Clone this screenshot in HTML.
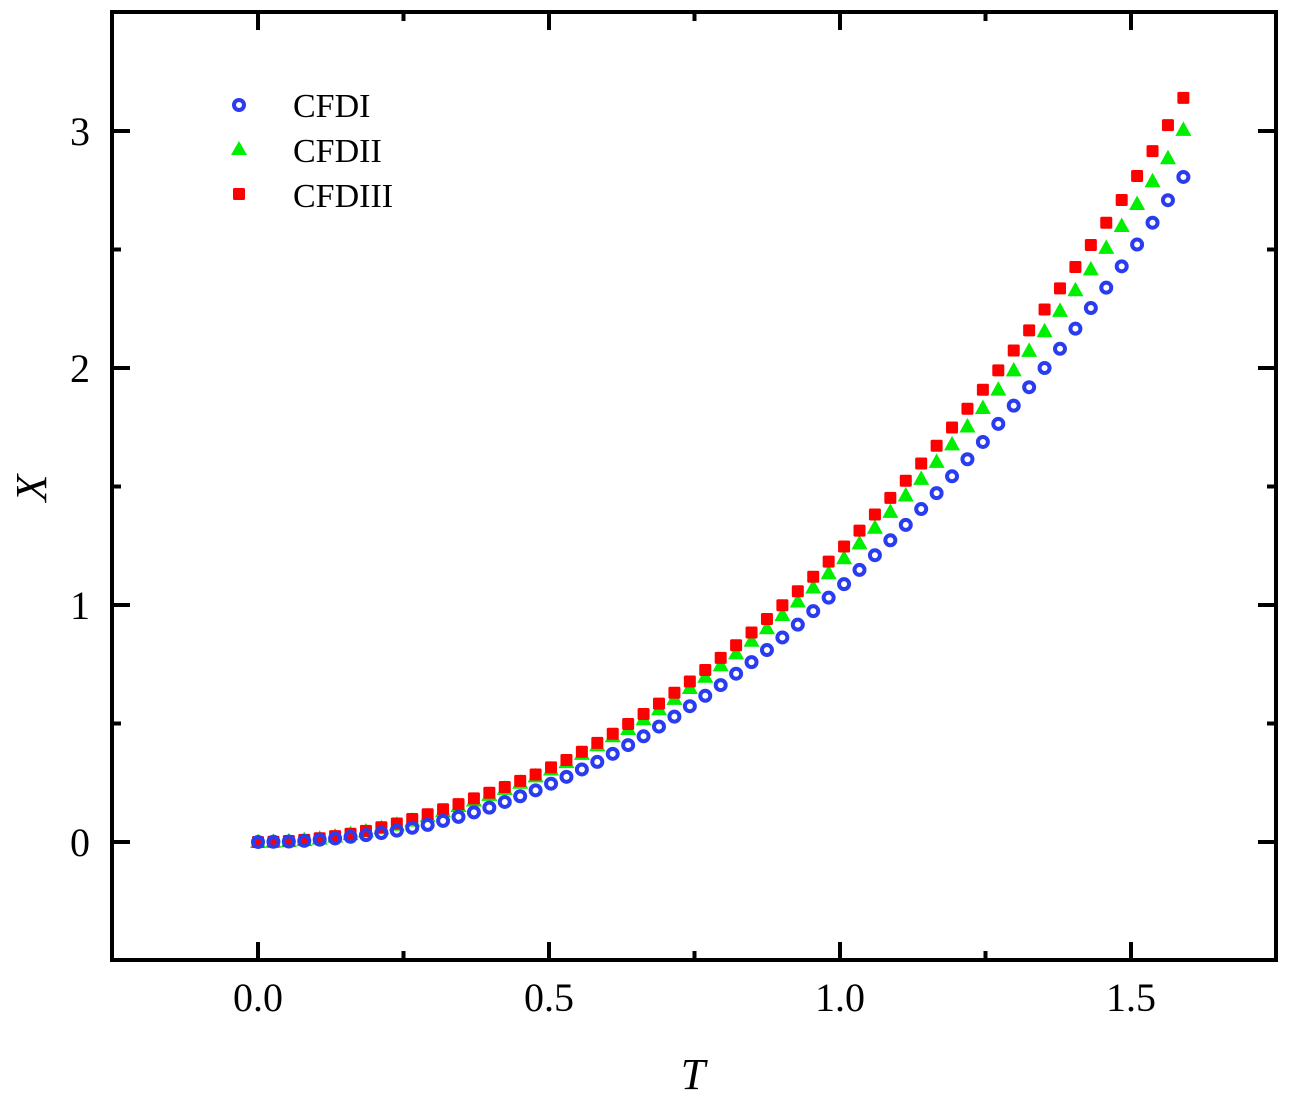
<!DOCTYPE html>
<html><head><meta charset="utf-8"><style>
html,body{margin:0;padding:0;background:#fff;}
svg{display:block;font-family:"Liberation Serif",serif;}
</style></head><body>
<svg id="chart" width="1292" height="1102" viewBox="0 0 1292 1102" xmlns="http://www.w3.org/2000/svg"></svg>
<script>
const tValues=[0,0.0265,0.053,0.0795,0.106,0.1325,0.159,0.1855,0.212,0.2385,0.265,0.2915,0.318,0.3445,0.371,0.3975,0.424,0.4505,0.477,0.5035,0.53,0.5565,0.583,0.6095,0.636,0.6625,0.689,0.7155,0.742,0.7685,0.795,0.8215,0.848,0.8745,0.901,0.9275,0.954,0.9805,1.007,1.0335,1.06,1.0865,1.113,1.1395,1.166,1.1925,1.219,1.2455,1.272,1.2985,1.325,1.3515,1.378,1.4045,1.431,1.4575,1.484,1.5105,1.537,1.5635,1.59];
const cfd1=[0,0.001,0.002,0.005,0.010,0.015,0.022,0.029,0.038,0.048,0.060,0.072,0.089,0.106,0.125,0.145,0.169,0.193,0.218,0.246,0.275,0.306,0.338,0.372,0.409,0.446,0.487,0.529,0.573,0.617,0.662,0.710,0.759,0.810,0.863,0.917,0.974,1.031,1.088,1.148,1.210,1.273,1.338,1.405,1.472,1.543,1.615,1.688,1.764,1.841,1.919,2.000,2.081,2.166,2.253,2.339,2.429,2.521,2.613,2.708,2.806];
const cfd2=[0,0.001,0.003,0.008,0.014,0.023,0.033,0.045,0.058,0.073,0.090,0.109,0.130,0.152,0.175,0.199,0.224,0.250,0.277,0.306,0.337,0.372,0.408,0.446,0.477,0.518,0.560,0.604,0.650,0.697,0.746,0.796,0.849,0.902,0.958,1.015,1.074,1.134,1.197,1.260,1.326,1.393,1.462,1.532,1.604,1.678,1.753,1.831,1.909,1.990,2.072,2.155,2.241,2.328,2.416,2.507,2.599,2.692,2.788,2.885,3.005];
const cfd3=[0,0.001,0.004,0.009,0.016,0.025,0.035,0.047,0.062,0.078,0.097,0.117,0.138,0.160,0.184,0.208,0.232,0.258,0.285,0.315,0.346,0.381,0.418,0.457,0.498,0.540,0.584,0.630,0.677,0.726,0.777,0.830,0.884,0.941,0.999,1.058,1.119,1.183,1.247,1.314,1.382,1.452,1.524,1.597,1.672,1.749,1.828,1.908,1.990,2.074,2.159,2.247,2.336,2.426,2.519,2.613,2.709,2.810,2.915,3.025,3.140];
const xTicks=[0,0.5,1.0,1.5];
const xTickLabels=["0.0","0.5","1.0","1.5"];
const xMinor=[-0.25,0.25,0.75,1.25,1.75];
const yTicks=[0,1,2,3];
const yTickLabels=["0","1","2","3"];
const yMinor=[-0.5,0.5,1.5,2.5,3.5];

const L=112,R=1276,T=12,B=960;
const xs=v=>258+v*582;
const ys=v=>842-v*237;
const svg=document.getElementById('chart');
const NS='http://www.w3.org/2000/svg';
function mk(tag,attrs,parent){const e=document.createElementNS(NS,tag);for(const k in attrs)e.setAttribute(k,attrs[k]);(parent||svg).appendChild(e);return e;}

const gG=mk('g',{});


tValues.forEach((t,i)=>{const x=xs(t),y=ys(cfd2[i]);
 const p=mk('polygon',{points:`${x},${y-8.5} ${x-8},${y+6} ${x+8},${y+6}`,fill:'#00ee00'},gG);
 
 });
const gR=mk('g',{});


tValues.forEach((t,i)=>{const x=xs(t),y=ys(cfd3[i]);
 const r=mk('rect',{x:x-6,y:y-6,width:12,height:12,rx:1.5,fill:'#ff0000'},gR);
 
 });
const gB=mk('g',{});


tValues.forEach((t,i)=>{const x=xs(t),y=ys(cfd1[i]);
 const c=mk('circle',{cx:x,cy:y,r:5,fill:'none',stroke:'#2a3cf0','stroke-width':4},gB);
 
 });

const fr=mk('rect',{x:L,y:T,width:R-L,height:B-T,fill:'none',stroke:'#000','stroke-width':4});


xTicks.forEach((v,i)=>{const x=xs(v);
 mk('line',{x1:x,y1:B,x2:x,y2:B-18,stroke:'#000','stroke-width':4});
 mk('line',{x1:x,y1:T,x2:x,y2:T+18,stroke:'#000','stroke-width':4});
 const tx=mk('text',{x:x,y:1011,'text-anchor':'middle','font-size':40});
 tx.textContent=xTickLabels[i];
 
 });
xMinor.forEach(v=>{const x=xs(v);if(x<=L+2||x>=R-2)return;
 mk('line',{x1:x,y1:B,x2:x,y2:B-9,stroke:'#000','stroke-width':4});
 mk('line',{x1:x,y1:T,x2:x,y2:T+9,stroke:'#000','stroke-width':4});});
yTicks.forEach((v,i)=>{const y=ys(v);
 mk('line',{x1:L,y1:y,x2:L+18,y2:y,stroke:'#000','stroke-width':4});
 mk('line',{x1:R,y1:y,x2:R-18,y2:y,stroke:'#000','stroke-width':4});
 const tx=mk('text',{x:90,y:y+14,'text-anchor':'end','font-size':40});
 tx.textContent=yTickLabels[i];
 
 });
yMinor.forEach(v=>{const y=ys(v);if(y<=T+2||y>=B-2)return;
 mk('line',{x1:L,y1:y,x2:L+9,y2:y,stroke:'#000','stroke-width':4});
 mk('line',{x1:R,y1:y,x2:R-9,y2:y,stroke:'#000','stroke-width':4});});
const xt=mk('text',{x:693,y:1089,'text-anchor':'middle','font-size':44,'font-style':'italic'});
xt.textContent='T';


const yt=mk('text',{x:0,y:0,'text-anchor':'middle','font-size':44,'font-style':'italic',transform:'translate(46,488) rotate(-90)'});
yt.textContent='X';


const lg=mk('g',{});


const e1=mk('g',{},lg);


mk('circle',{cx:239,cy:105,r:5,fill:'none',stroke:'#2a3cf0','stroke-width':4},e1);
mk('text',{x:293,y:117,'font-size':34},e1).textContent='CFDI';
const e2=mk('g',{},lg);


mk('polygon',{points:'239,141 231,155 247,155',fill:'#00ee00'},e2);
mk('text',{x:293,y:162,'font-size':34},e2).textContent='CFDII';
const e3=mk('g',{},lg);


mk('rect',{x:233,y:188,width:12,height:12,rx:1.5,fill:'#ff0000'},e3);
mk('text',{x:293,y:207,'font-size':34},e3).textContent='CFDIII';
</script>
</body></html>
